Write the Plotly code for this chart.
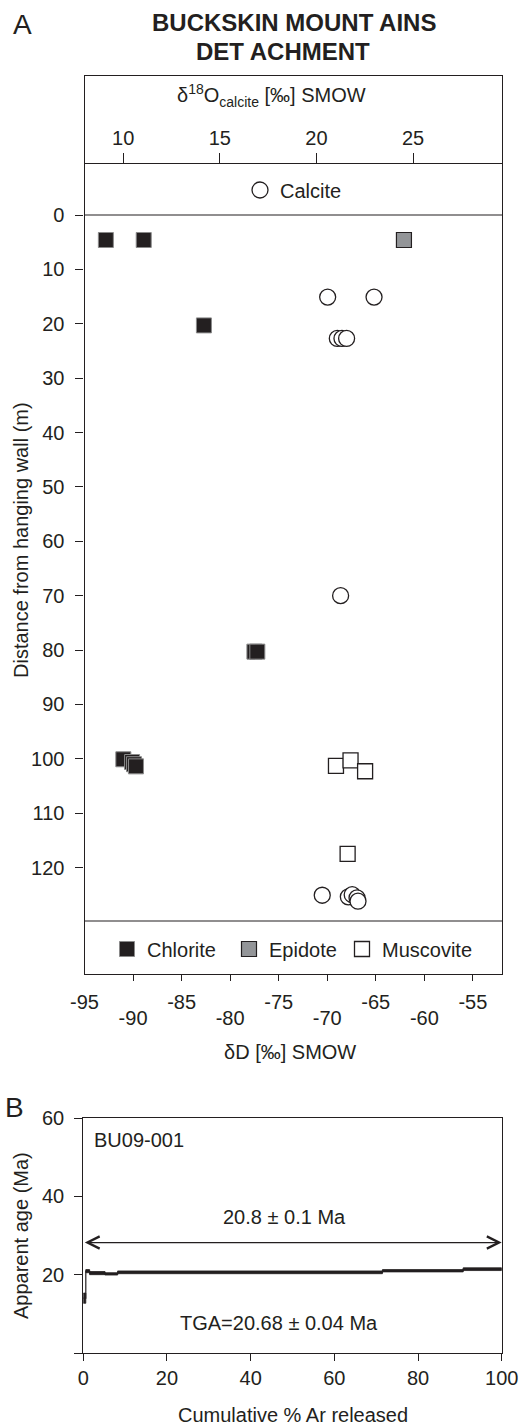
import plotly.graph_objects as go

# ---------------- data (panel A) ----------------
chlorite_dD = [-92.8, -88.9, -82.7, -77.5, -77.2, -91.0, -90.1, -89.9, -89.7]
chlorite_depth = [4.6, 4.6, 20.3, 80.3, 80.3, 100.1, 100.6, 101.0, 101.4]

epidote_dD = [-62.1]
epidote_depth = [4.6]

muscovite_dD = [-69.1, -67.6, -66.1, -67.9]
muscovite_depth = [101.3, 100.3, 102.3, 117.5]

calcite_d18O = [20.58, 22.98, 21.08, 21.32, 21.56, 21.25, 20.30, 21.65, 21.85, 22.10, 22.15]
calcite_depth = [15.1, 15.1, 22.7, 22.7, 22.7, 70.0, 125.1, 125.4, 125.0, 125.6, 126.2]

depth_ticks = [0, 10, 20, 30, 40, 50, 60, 70, 80, 90, 100, 110, 120]
dD_ticks = [-90, -85, -80, -75, -70, -65, -60, -55]
dD_labels_upper = [-95, -85, -75, -65, -55]
dD_labels_lower = [-90, -80, -70, -60]
d18O_ticks = [10, 15, 20, 25]

# ---------------- data (panel B) ----------------
step_start = [0.0, 0.6, 1.5, 5.2, 8.2, 71.5, 90.8]
step_end = [0.6, 1.5, 5.2, 8.2, 71.5, 90.8, 100.0]
step_age = [14.0, 20.9, 20.4, 20.2, 20.6, 21.0, 21.4]
step_err = [1.3, 0.4, 0.4, 0.3, 0.35, 0.3, 0.35]
plateau_y = 28.2
age_ticks = [0, 20, 40, 60]
age_ticklabels = ["", "20", "40", "60"]
cum_ticks = [0, 20, 40, 60, 80, 100]

# ---------------- layout helpers ----------------
W, H = 523, 1428
INK = "#231f20"
FONT = "Arial, Liberation Sans, sans-serif"


def px(x):
    return x / W


def py(y):
    return 1 - y / H


# panel A geometry (pixels)
A_left, A_right, A_top, A_bottom = 84.5, 502.0, 76.0, 974.0
Y0_PX, PX_PER_M = 215.0, 5.4375
dmin = (A_top - Y0_PX) / PX_PER_M
dmax = (A_bottom - Y0_PX) / PX_PER_M
sep_bottom = (921.0 - Y0_PX) / PX_PER_M

# panel B geometry
B_left, B_right, B_top, B_bottom = 83.3, 501.7, 1118.0, 1353.0

fig = go.Figure()

# calcite circles on top axis
fig.add_trace(go.Scatter(
    x=calcite_d18O, y=calcite_depth, xaxis="x2", yaxis="y", mode="markers",
    name="Calcite", legend="legend",
    marker=dict(symbol="circle", size=16, color="white", line=dict(color=INK, width=1.3)),
))
fig.add_trace(go.Scatter(
    x=chlorite_dD, y=chlorite_depth, xaxis="x", yaxis="y", mode="markers",
    name="Chlorite", legend="legend2",
    marker=dict(symbol="square", size=15, color=INK, line=dict(color="#8a8a8a", width=1)),
))
fig.add_trace(go.Scatter(
    x=epidote_dD, y=epidote_depth, xaxis="x", yaxis="y", mode="markers",
    name="Epidote", legend="legend3",
    marker=dict(symbol="square", size=15, color="#939598", line=dict(color=INK, width=1.2)),
))
fig.add_trace(go.Scatter(
    x=muscovite_dD, y=muscovite_depth, xaxis="x", yaxis="y", mode="markers",
    name="Muscovite", legend="legend4",
    marker=dict(symbol="square", size=15, color="white", line=dict(color=INK, width=1.3)),
))
# empty traces so the two staggered label axes get drawn
for ax in ("x3", "x4"):
    fig.add_trace(go.Scatter(x=[], y=[], xaxis=ax, yaxis="y", mode="markers",
                             showlegend=False, hoverinfo="skip"))

# panel B: step-heating spectrum boxes
bx, by = [], []
for s, e, a, er in zip(step_start, step_end, step_age, step_err):
    bx += [s, e, e, s, s, None]
    by += [a - er, a - er, a + er, a + er, a - er, None]
fig.add_trace(go.Scatter(
    x=bx, y=by, xaxis="x5", yaxis="y5", mode="lines", fill="toself",
    fillcolor=INK, line=dict(color=INK, width=0.8), showlegend=False, hoverinfo="skip",
))
lx, ly = [], []
for s, e, a in zip(step_start, step_end, step_age):
    lx += [s, e]
    ly += [a, a]
fig.add_trace(go.Scatter(
    x=lx, y=ly, xaxis="x5", yaxis="y5", mode="lines",
    line=dict(color=INK, width=1.2), showlegend=False, hoverinfo="skip",
))

axis_common = dict(showgrid=False, zeroline=False, linecolor=INK, linewidth=1.2,
                   tickcolor=INK, tickwidth=1.2,
                   tickfont=dict(family=FONT, size=20, color=INK))

ann = []


def text(x, y, t, size=20, xanchor="center", yanchor="middle", angle=0, bold=False):
    ann.append(dict(x=px(x), y=py(y), xref="paper", yref="paper", text=(f"<b>{t}</b>" if bold else t),
                    showarrow=False, xanchor=xanchor, yanchor=yanchor, textangle=angle,
                    font=dict(family=FONT, size=size, color=INK)))


text(22, 24, "A", size=28)
text(293.5, 23, "BUCKSKIN MOUNT AINS", size=24, bold=True)
text(282.5, 52, "DET ACHMENT", size=24, bold=True)
text(271, 96, "δ<sup>18</sup>O<sub>calcite</sub> [‰] SMOW", size=20)
text(289.5, 1052, "δD [‰] SMOW", size=20)
text(21, 540, "Distance from hanging wall (m)", size=20, angle=-90)
text(14, 1107, "B", size=28)
text(21, 1236, "Apparent age (Ma)", size=20, angle=-90)
text(292.5, 1428, "Cumulative % Ar released", size=20, yanchor="bottom")

# panel B texts in data coordinates
ann.append(dict(x=2.0, y=54.5, xref="x5", yref="y5", text="BU09-001", showarrow=False,
                xanchor="left", yanchor="middle", font=dict(family=FONT, size=20, color=INK)))
ann.append(dict(x=48, y=34.7, xref="x5", yref="y5", text="20.8 ± 0.1 Ma", showarrow=False,
                xanchor="center", yanchor="middle", font=dict(family=FONT, size=20, color=INK)))
ann.append(dict(x=46.7, y=7.6, xref="x5", yref="y5", text="TGA=20.68 ± 0.04 Ma", showarrow=False,
                xanchor="center", yanchor="middle", font=dict(family=FONT, size=20, color=INK)))
ann.append(dict(x=100, y=plateau_y, ax=0, ay=plateau_y, xref="x5", yref="y5", axref="x5", ayref="y5",
                text="", showarrow=True, arrowside="end+start", arrowhead=5, startarrowhead=5,
                arrowsize=2.0, startarrowsize=2.0, arrowwidth=1.2, arrowcolor=INK,
                standoff=0, startstandoff=0))

shapes = []
for yv in (0, sep_bottom):
    shapes.append(dict(type="line", xref="x domain", yref="y", x0=0, x1=1, y0=yv, y1=yv,
                       line=dict(color=INK, width=1.2)))


def legend_at(x_px, y_px):
    return dict(x=px(x_px), y=py(y_px), xanchor="left", yanchor="middle", orientation="h",
                bgcolor="rgba(0,0,0,0)", itemwidth=30,
                font=dict(family=FONT, size=20, color=INK))


fig.update_layout(
    width=W, height=H, margin=dict(l=0, r=0, t=0, b=0, autoexpand=False),
    paper_bgcolor="white", plot_bgcolor="white",
    font=dict(family=FONT, size=20, color=INK),
    xaxis=dict(domain=[px(A_left), px(A_right)], anchor="y", range=[-95, -52],
               tickvals=dD_ticks, showticklabels=False, ticks="outside", ticklen=6,
               showline=True, mirror=True, **axis_common),
    xaxis3=dict(overlaying="x", anchor="free", position=py(988), range=[-95, -52],
                tickvals=dD_labels_upper, ticktext=[str(v) for v in dD_labels_upper],
                ticks="", showline=False, side="bottom", **axis_common),
    xaxis4=dict(overlaying="x", anchor="free", position=py(1004), range=[-95, -52],
                tickvals=dD_labels_lower, ticktext=[str(v) for v in dD_labels_lower],
                ticks="", showline=False, side="bottom", **axis_common),
    xaxis2=dict(overlaying="x", anchor="free", position=py(163), side="top", range=[8.0, 29.6],
                tickvals=d18O_ticks, ticks="outside", ticklen=10, showline=True, **axis_common),
    yaxis=dict(domain=[py(A_bottom), py(A_top)], anchor="x", range=[dmax, dmin],
               tickvals=depth_ticks, ticks="outside", ticklen=8, ticklabelstandoff=7,
               showline=True, mirror=True, **axis_common),
    xaxis5=dict(domain=[px(B_left), px(B_right)], anchor="y5", range=[0, 100],
                tickvals=cum_ticks, ticks="outside", ticklen=7, ticklabelstandoff=0,
                showline=True, mirror=True, **axis_common),
    yaxis5=dict(domain=[py(B_bottom), py(B_top)], anchor="x5", range=[0, 60],
                tickvals=age_ticks, ticktext=age_ticklabels, ticks="outside", ticklen=8,
                ticklabelstandoff=6, showline=True, mirror=True, **axis_common),
    legend=legend_at(240, 190),
    legend2=legend_at(107, 949),
    legend3=legend_at(229, 949),
    legend4=legend_at(342, 949),
    annotations=ann,
    shapes=shapes,
)

fig.write_html("out.html", config={"displayModeBar": False},
               post_script="document.body.style.margin='0';document.body.style.overflow='hidden';")
